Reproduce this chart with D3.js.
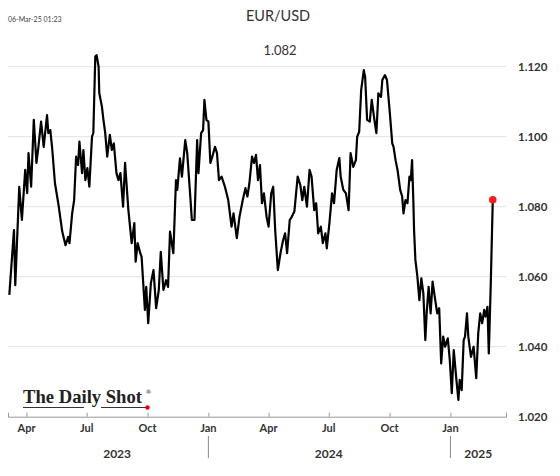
<!DOCTYPE html>
<html>
<head>
<meta charset="utf-8">
<script src="https://cdn.jsdelivr.net/npm/d3@7"></script>
<style>
  body { margin: 0; background: #fff; }
  svg { display: block; }
</style>
</head>
<body>
<div id="chart"></div>
<script>
var dates = [
  "2023-03-06","2023-03-13","2023-03-15","2023-03-21","2023-03-25","2023-03-30","2023-04-02","2023-04-04",
  "2023-04-08","2023-04-12","2023-04-16","2023-04-19","2023-04-23","2023-04-27","2023-05-02","2023-05-04",
  "2023-05-07","2023-05-10","2023-05-14","2023-05-19","2023-05-25","2023-05-30","2023-06-03","2023-06-05",
  "2023-06-09","2023-06-12","2023-06-15","2023-06-18","2023-06-20","2023-06-24","2023-06-26","2023-06-29",
  "2023-07-02","2023-07-05","2023-07-09","2023-07-11","2023-07-14","2023-07-16","2023-07-19","2023-07-20",
  "2023-07-24","2023-07-26","2023-07-29","2023-08-01","2023-08-05","2023-08-08","2023-08-11","2023-08-15",
  "2023-08-18","2023-08-21","2023-08-25","2023-08-28","2023-09-02","2023-09-07","2023-09-11","2023-09-13",
  "2023-09-16","2023-09-20","2023-09-22","2023-09-27","2023-09-29","2023-10-02","2023-10-06","2023-10-10",
  "2023-10-14","2023-10-18","2023-10-21","2023-10-25","2023-10-29","2023-11-01","2023-11-04","2023-11-09",
  "2023-11-13","2023-11-15","2023-11-19","2023-11-22","2023-11-27","2023-11-30","2023-12-05","2023-12-07",
  "2023-12-11","2023-12-15","2023-12-17","2023-12-21","2023-12-24","2023-12-26","2023-12-29","2024-01-01",
  "2024-01-04","2024-01-07","2024-01-11","2024-01-14","2024-01-17","2024-01-21","2024-01-26","2024-01-31",
  "2024-02-05","2024-02-08","2024-02-13","2024-02-17","2024-02-22","2024-02-26","2024-02-29","2024-03-03",
  "2024-03-07","2024-03-10","2024-03-13","2024-03-16","2024-03-19","2024-03-22","2024-03-25","2024-03-29",
  "2024-04-01","2024-04-05","2024-04-08","2024-04-11","2024-04-15","2024-04-19","2024-04-23","2024-04-26",
  "2024-04-29","2024-05-03","2024-05-06","2024-05-10","2024-05-15","2024-05-19","2024-05-22","2024-05-25",
  "2024-05-29","2024-06-02","2024-06-05","2024-06-09","2024-06-12","2024-06-15","2024-06-19","2024-06-22",
  "2024-06-26","2024-06-28","2024-07-02","2024-07-06","2024-07-09","2024-07-13","2024-07-17","2024-07-19",
  "2024-07-23","2024-07-27","2024-07-31","2024-08-03","2024-08-07","2024-08-11","2024-08-13","2024-08-16",
  "2024-08-19","2024-08-23","2024-08-25","2024-08-28","2024-09-01","2024-09-04","2024-09-08","2024-09-11",
  "2024-09-14","2024-09-18","2024-09-20","2024-09-24","2024-09-27","2024-10-01","2024-10-05","2024-10-07",
  "2024-10-10","2024-10-13","2024-10-17","2024-10-20","2024-10-22","2024-10-25","2024-10-28","2024-10-31",
  "2024-11-02","2024-11-04","2024-11-06","2024-11-07","2024-11-09","2024-11-12","2024-11-15","2024-11-18",
  "2024-11-21","2024-11-24","2024-11-26","2024-11-29","2024-12-02","2024-12-05","2024-12-09","2024-12-12",
  "2024-12-15","2024-12-18","2024-12-21","2024-12-24","2024-12-28","2024-12-31","2025-01-03","2025-01-06",
  "2025-01-10","2025-01-13","2025-01-15","2025-01-18","2025-01-21","2025-01-23","2025-01-26","2025-01-28",
  "2025-02-01","2025-02-05","2025-02-09","2025-02-12","2025-02-15","2025-02-18","2025-02-21","2025-02-23",
  "2025-02-26","2025-02-28","2025-03-03","2025-03-06"
];
var rates = [
  1.0548,1.0733,1.0576,1.0857,1.0762,1.0905,1.0839,1.0953,
  1.0857,1.1048,1.0925,1.0971,1.1043,1.0971,1.1062,1.1010,
  1.1019,1.0962,1.0867,1.0810,1.0729,1.0690,1.0714,1.0696,
  1.0781,1.0819,1.0943,1.0919,1.0986,1.0896,1.0962,1.0876,
  1.0910,1.0857,1.1000,1.1010,1.1229,1.1233,1.1200,1.1125,
  1.1086,1.1053,1.1010,1.0943,1.1005,1.0962,1.0981,1.0896,
  1.0876,1.0896,1.0800,1.0925,1.0791,1.0696,1.0753,1.0643,
  1.0696,1.0667,1.0657,1.0505,1.0571,1.0467,1.0581,1.0619,
  1.0510,1.0562,1.0671,1.0562,1.0590,1.0571,1.0729,1.0667,
  1.0876,1.0848,1.0938,1.0886,1.0990,1.0953,1.0819,1.0762,
  1.0762,1.0990,1.0896,1.1010,1.1019,1.1105,1.1048,1.1043,
  1.0925,1.0943,1.0971,1.0953,1.0876,1.0886,1.0857,1.0819,
  1.0743,1.0781,1.0710,1.0771,1.0819,1.0853,1.0829,1.0867,
  1.0943,1.0925,1.0948,1.0876,1.0919,1.0810,1.0838,1.0771,
  1.0743,1.0838,1.0857,1.0733,1.0619,1.0667,1.0705,1.0724,
  1.0667,1.0762,1.0771,1.0786,1.0886,1.0862,1.0819,1.0857,
  1.0800,1.0905,1.0886,1.0790,1.0810,1.0724,1.0743,1.0696,
  1.0724,1.0681,1.0753,1.0838,1.0810,1.0905,1.0939,1.0886,
  1.0848,1.0838,1.0790,1.0953,1.0914,1.0933,1.1000,1.1014,
  1.1133,1.1190,1.1171,1.1048,1.1043,1.1105,1.1048,1.1010,
  1.1124,1.1114,1.1162,1.1176,1.1162,1.1076,1.0981,1.0971,
  1.0933,1.0905,1.0848,1.0829,1.0781,1.0819,1.0810,1.0886,
  1.0876,1.0933,1.0810,1.0733,1.0648,1.0600,1.0533,1.0595,
  1.0553,1.0419,1.0495,1.0571,1.0495,1.0586,1.0533,1.0495,
  1.0510,1.0352,1.0429,1.0400,1.0424,1.0362,1.0267,1.0390,
  1.0305,1.0248,1.0305,1.0276,1.0419,1.0429,1.0495,1.0429,
  1.0371,1.0400,1.0310,1.0438,1.0495,1.0467,1.0505,1.0486,
  1.0514,1.0381,1.0582,1.0820
];
var yTicks = [1.020, 1.040, 1.060, 1.080, 1.100, 1.120];
var monthTicks = ["2023-04-01","2023-07-01","2023-10-01","2024-01-01","2024-04-01","2024-07-01","2024-10-01","2025-01-01"];
var yearLabels = [
  {year: "2023", at: "2023-08-16"},
  {year: "2024", at: "2024-07-01"},
  {year: "2025", at: "2025-02-12"}
];
var yearBreaks = ["2024-01-01", "2025-01-01"];

var W = 560, H = 476;
var parse = d3.timeParse("%Y-%m-%d");
var data = dates.map(function(d, i) { return {date: parse(d), value: rates[i]}; });

var x = d3.scaleTime()
  .domain([parse("2023-03-04"), parse("2025-03-26")])
  .range([8, 506]);
var y = d3.scaleLinear()
  .domain([1.02, 1.12])
  .range([416.7, 66.7]);

var svg = d3.select("#chart").append("svg")
  .attr("width", W)
  .attr("height", H)
  .style("font-family", "Lato, 'Open Sans', sans-serif");

// timestamp + titles
svg.append("text").attr("x", 8).attr("y", 22)
  .style("font-size", "7px").attr("fill", "#444")
  .text("06-Mar-25 01:23");
svg.append("text").attr("x", 278).attr("y", 21)
  .attr("text-anchor", "middle").style("font-size", "14.5px").attr("fill", "#333")
  .text("EUR/USD");
svg.append("text").attr("x", 280).attr("y", 55)
  .attr("text-anchor", "middle").style("font-size", "13px").attr("fill", "#333")
  .text("1.082");

// gridlines
svg.append("g").selectAll("line")
  .data(yTicks.filter(function(t) { return t > 1.02; }))
  .enter().append("line")
  .attr("x1", 8).attr("x2", 506)
  .attr("y1", function(d) { return y(d); })
  .attr("y2", function(d) { return y(d); })
  .attr("stroke", "#e2e2e2").attr("stroke-width", 1);

// y labels on the right
svg.append("g").selectAll("text")
  .data(yTicks)
  .enter().append("text")
  .attr("x", 518)
  .attr("y", function(d) { return y(d) + 4; })
  .style("font-size", "11.5px").style("font-weight", "bold").attr("fill", "#333")
  .text(function(d) { return d3.format(".3f")(d); });

// x axis
var xAxis = d3.axisTop(x)
  .tickValues(monthTicks.map(parse))
  .tickSize(4)
  .tickFormat("");
var gx = svg.append("g").attr("transform", "translate(0," + y(1.02) + ")").call(xAxis);
gx.select(".domain").attr("stroke", "#999");
gx.selectAll(".tick line").attr("stroke", "#999");

svg.append("g").selectAll("text")
  .data(monthTicks)
  .enter().append("text")
  .attr("x", function(d) { return x(parse(d)); })
  .attr("y", 432)
  .attr("text-anchor", "middle")
  .style("font-size", "11px").style("font-weight", "bold").attr("fill", "#333")
  .text(function(d) { return d3.timeFormat("%b")(parse(d)); });

svg.append("g").selectAll("line")
  .data(yearBreaks)
  .enter().append("line")
  .attr("x1", function(d) { return x(parse(d)); })
  .attr("x2", function(d) { return x(parse(d)); })
  .attr("y1", 436).attr("y2", 458)
  .attr("stroke", "#888");

svg.append("g").selectAll("text")
  .data(yearLabels)
  .enter().append("text")
  .attr("x", function(d) { return x(parse(d.at)); })
  .attr("y", 458)
  .attr("text-anchor", "middle")
  .style("font-size", "12px").style("font-weight", "bold").attr("fill", "#333")
  .text(function(d) { return d.year; });

// logo
var logo = svg.append("g");
logo.append("text").attr("x", 23).attr("y", 403)
  .attr("textLength", 119).attr("lengthAdjust", "spacingAndGlyphs")
  .style("font-family", "'Liberation Serif', 'DejaVu Serif', serif")
  .style("font-size", "19px").style("font-weight", "bold").attr("fill", "#222")
  .text("The Daily Shot");
logo.append("text").attr("x", 145.5).attr("y", 394)
  .style("font-family", "'DejaVu Serif', serif").style("font-size", "6px").attr("fill", "#222")
  .text("\u00ae");
logo.append("line").attr("x1", 23).attr("x2", 84).attr("y1", 407.5).attr("y2", 407.5)
  .attr("stroke", "#333").attr("stroke-width", 1);
logo.append("line").attr("x1", 101).attr("x2", 146).attr("y1", 407.5).attr("y2", 407.5)
  .attr("stroke", "#333").attr("stroke-width", 1);
logo.append("circle").attr("cx", 147.5).attr("cy", 407.5).attr("r", 2.2).attr("fill", "#e60000");

// the series
var line = d3.line()
  .x(function(d) { return x(d.date); })
  .y(function(d) { return y(d.value); });
svg.append("path")
  .datum(data)
  .attr("d", line)
  .attr("fill", "none")
  .attr("stroke", "#000")
  .attr("stroke-width", 2.2)
  .attr("stroke-linejoin", "round");

var last = data[data.length - 1];
svg.append("circle")
  .attr("cx", x(last.date)).attr("cy", y(last.value))
  .attr("r", 3.8).attr("fill", "#ff1a1a");
</script>
</body>
</html>
